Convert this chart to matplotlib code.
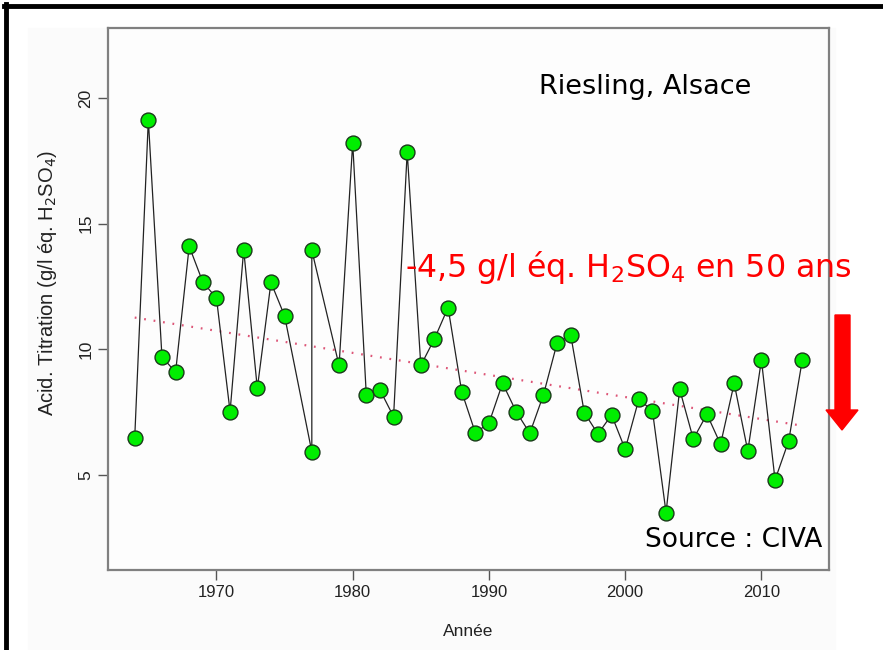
# -*- coding: utf-8 -*-
"""
Riesling, Alsace — acidité de titration par millésime (source CIVA).
"""
import matplotlib
matplotlib.use("Agg")
import matplotlib.pyplot as plt
from matplotlib.patches import Polygon, Rectangle

# --------------- 数据 ---------------
years = [1964, 1965, 1966, 1967, 1968, 1969, 1970, 1971, 1972, 1973, 1974, 1975,
         1977, 1977, 1979, 1980, 1981, 1982, 1983, 1984, 1985, 1986, 1987, 1988,
         1989, 1990, 1991, 1992, 1993, 1994, 1995, 1996, 1997, 1998, 1999, 2000,
         2001, 2002, 2003, 2004, 2005, 2006, 2007, 2008, 2009, 2010, 2011, 2012,
         2013]
acidity = [6.45, 19.14, 9.70, 9.08, 14.10, 12.67, 12.04, 7.51, 13.96, 8.44, 12.66, 11.33,
           5.91, 13.94, 9.35, 18.22, 8.16, 8.38, 7.31, 17.86, 9.35, 10.41, 11.66, 8.31,
           6.67, 7.05, 8.64, 7.51, 6.65, 8.18, 10.24, 10.57, 7.47, 6.62, 7.38, 6.01,
           8.00, 7.55, 3.49, 8.40, 6.42, 7.41, 6.21, 8.64, 5.94, 9.57, 4.79, 6.34,
           9.57]
# 趋势线端点
trend_years = [1964, 2013]
trend_values = [11.26, 6.95]
x_ticks = [1970, 1980, 1990, 2000, 2010]
y_ticks = [5, 10, 15, 20]

# --------------- 常量 ---------------
W, H = 883, 650
AXIS_FONT = ["Liberation Sans", "DejaVu Sans"]
BOX_GRAY = "#808080"


def px(x, y):
    """像素坐标 -> figure 坐标"""
    return x / W, 1 - y / H


fig = plt.figure(figsize=(W / 100, H / 100), dpi=100)
fig.patch.set_facecolor("white")

# 幻灯片黑色边框 + R 图片浅灰底
fig.add_artist(Rectangle(px(28, 650), (835 - 28) / W, (650 - 28) / H,
                         transform=fig.transFigure, color="#fbfbfb", zorder=0))
fig.add_artist(plt.Line2D([4 / W, 1], [1 - 6 / H] * 2, transform=fig.transFigure,
                          color="black", lw=3.5))
fig.add_artist(plt.Line2D([6 / W] * 2, [0, 1 - 4 / H], transform=fig.transFigure,
                          color="black", lw=3.5))

l, t = px(108, 28)
r, b = px(829, 570)
ax = fig.add_axes([l, b, r - l, t - b])
ax.set_facecolor("#fdfdfd")

# --------------- 数据曲线 ---------------
ax.plot(years, acidity, color="#222222", lw=0.9, zorder=2)
ax.scatter(years, acidity, s=115, color="#00ee00", edgecolor="#1a3a1a",
           linewidth=1.0, zorder=3)
ax.plot(trend_years, trend_values, color="#dd5577", lw=1.6,
        linestyle=(0, (0.8, 3.5)), zorder=1)

# --------------- 坐标轴 ---------------
ax.set_xlim(1962.04, 2014.96)
ax.set_ylim(1.2, 22.8)
ax.set_xticks(x_ticks)
ax.set_yticks(y_ticks)
for s in ax.spines.values():
    s.set_color(BOX_GRAY)
    s.set_linewidth(1.6)
ax.tick_params(length=7, width=1, color="#555555", labelcolor="#222222", pad=3.5)
for lab in ax.get_xticklabels():
    lab.set_family(AXIS_FONT)
    lab.set_fontsize(12)
for lab in ax.get_yticklabels():
    lab.set_family(AXIS_FONT)
    lab.set_fontsize(12.5)
    lab.set_rotation(90)
    lab.set_va("center")

fig.text(*px(468, 632), "Année", family=AXIS_FONT, fontsize=12.5,
         ha="center", va="center", color="#222222")
fig.text(*px(48, 283), "Acid. Titration (g/l éq. H$_2$SO$_4$)", family=AXIS_FONT,
         fontsize=14.5, rotation=90, ha="center", va="center", color="#222222")

# --------------- 注释 ---------------
fig.text(*px(645, 94), "Riesling, Alsace", fontsize=19.5, ha="center",
         va="baseline", color="black")
fig.text(*px(822, 547), "Source : CIVA", fontsize=19, ha="right",
         va="baseline", color="black")
fig.text(*px(405, 277), "-4,5 g/l éq. H$_2$SO$_4$ en 50 ans", fontsize=22.8,
         ha="left", va="baseline", color="#ff0000")

# 红色向下箭头
arrow_pts = [px(835, 315), px(850, 315), px(850, 410), px(858, 410),
             px(842, 430), px(826, 410), px(835, 410)]
fig.add_artist(Polygon(arrow_pts, closed=True, transform=fig.transFigure,
                       color="#ff0000", zorder=5))

fig.savefig("out.png", dpi=100)
